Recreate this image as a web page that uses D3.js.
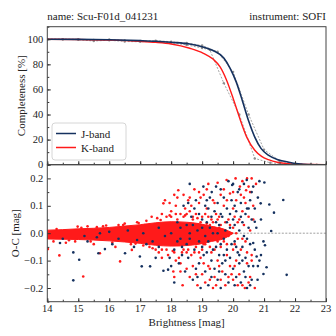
<!DOCTYPE html>
<html>
<head>
<meta charset="utf-8">
<script src="https://cdn.jsdelivr.net/npm/d3@7"></script>
<style>
  body { margin: 0; background: #fff; }
  svg text { font-family: "Liberation Serif", "DejaVu Serif", serif; fill: #222; }
</style>
</head>
<body>
<script>
// completeness fits
var jFitMag = [14, 15, 16, 17, 17.5, 18, 18.6, 19.0, 19.35, 19.7, 19.9, 20.1, 20.3, 20.5, 20.7, 20.9, 21.15, 21.45, 21.8, 22.1, 22.4, 23];
var jFitVal = [100, 99.9, 99.6, 98.9, 98.4, 97.6, 96.2, 94, 91, 85, 77, 66, 51, 35, 22, 13, 7.4, 4, 2, 0.8, 0.2, 0];
var kFitMag = [14, 15, 16, 17, 17.5, 18, 18.6, 19.04, 19.36, 19.58, 19.79, 20.0, 20.2, 20.44, 20.7, 20.92, 21.14, 21.46, 21.78, 22.1, 23];
var kFitVal = [100, 99.8, 99.3, 98.3, 97.5, 96.2, 92.8, 88.8, 84, 78, 67.4, 53, 38, 22, 11.5, 6.6, 4, 1.8, 0.8, 0.3, 0];

// measured completeness (grey dashed)
var jDataMag = [14, 14.5, 15, 15.5, 16, 16.5, 17, 17.5, 18, 18.5, 19, 19.5, 20, 20.5, 21, 21.5, 22, 22.5, 23];
var jDataVal = [100, 100, 100, 99.4, 99.8, 99, 98.6, 98.9, 98, 97, 95, 90, 74, 40, 12, 3, 0.5, 0, 0];
var kDataMag = [14, 14.5, 15, 15.5, 16, 16.5, 17, 17.5, 18, 18.5, 19, 19.25, 19.7, 20.2, 20.7, 21.2, 21.7, 22.2, 22.7, 23];
var kDataVal = [100, 100, 99.6, 98.6, 99.2, 98.2, 98, 98.3, 97.2, 95.5, 93, 91.5, 65, 40, 5, 1.5, 0.3, 0, 0, 0];

// dense red core of the residuals
var coreMag = [14, 14.5, 15, 15.5, 16, 16.5, 17, 17.5, 18, 18.5, 18.9, 19.3, 19.7, 20.0];
var coreHi = [0.011, 0.013, 0.016, 0.018, 0.021, 0.026, 0.031, 0.038, 0.042, 0.04, 0.035, 0.025, 0.015, 0.0];
var coreLo = [-0.021, -0.022, -0.023, -0.025, -0.028, -0.032, -0.037, -0.044, -0.047, -0.045, -0.04, -0.03, -0.02, 0.0];

// K-band residual points
var kPts = [[14.02,-0.058],[14.39,-0.081],[14.2,-0.03],[14.6,-0.035],[14.98,0.024],[15.16,-0.158],[15.3,0.025],[15.7,-0.073],[15.5,-0.04],[15.9,0.028],
  [16.35,-0.103],[16.2,-0.05],[16.73,-0.061],[16.5,0.035],[16.9,0.04],[17.15,0.03],[17.37,0.06],[17.66,0.048],[17.75,0.109],[17.8,0.12],
  [17.5,-0.06],[17.3,-0.05],[17.9,-0.08],[18.07,-0.14],[18.1,-0.16],[18.15,0.1],[18.0,0.08],[18.2,0.13],[18.23,0.157],[18.3,0.07],
  [18.37,-0.19],[18.3,-0.11],[18.45,0.09],[18.5,-0.07],[18.55,0.12],[18.6,-0.16],[18.7,0.05],[18.7,-0.12],[18.75,0.16],[18.8,-0.05],
  [18.85,-0.19],[18.9,0.11],[18.95,-0.09],[19.0,0.06],[19.0,-0.15],[19.05,0.14],[19.1,-0.04],[19.1,-0.18],[19.15,0.09],[19.2,-0.12],
  [19.2,0.18],[19.25,0.03],[19.3,-0.07],[19.35,0.12],[19.35,-0.2],[19.4,-0.16],[19.45,0.07],[19.5,0.184],[19.5,-0.1],[19.55,0.02],
  [19.6,-0.05],[19.6,0.14],[19.65,-0.14],[19.7,0.1],[19.75,-0.19],[19.79,0.194],[19.8,-0.08],[19.85,0.05],[19.9,0.145],[19.9,-0.12],
  [19.95,0.0],[20.0,-0.17],[20.0,0.09],[20.05,-0.04],[20.08,0.2],[20.1,0.12],[20.1,-0.1],[20.15,0.04],[20.2,-0.15],[20.22,0.17],
  [20.25,-0.06],[20.3,0.08],[20.3,-0.19],[20.35,0.13],[20.38,-0.2],[20.4,-0.03],[20.42,0.157],[20.45,-0.11],[20.5,0.06],[20.55,-0.16],
  [20.6,0.2],[20.65,0.1],[20.7,-0.2],[20.74,0.18],[20.5,0.17],[18.0,0.06],[18.1,-0.07],[18.2,0.05],[18.25,-0.09],[18.4,0.06],
  [18.4,-0.06],[18.5,0.07],[18.6,0.08],[18.65,-0.08],[18.8,0.07],[18.9,-0.07],[19.0,-0.06],[19.1,0.07],[19.2,0.06],[19.3,0.05],
  [19.4,-0.06],[19.5,0.05],[17.6,-0.07],[17.7,0.07],[17.85,-0.06],[17.95,0.065],[19.1,0.02],[19.3,-0.02],[19.45,0.01],[19.6,0.03],
  [19.7,-0.03],[19.85,-0.01],[20.0,0.02],[20.15,-0.02],[18.6,0.13],[18.9,0.15],[19.25,-0.17],[19.55,-0.12],[19.95,-0.15],[20.25,0.14],
  [17.2,0.045],[17.4,-0.055],[17.55,0.055],[17.7,-0.06],[17.85,0.06],[18.05,-0.065],[18.15,0.07],[18.35,-0.07],[18.45,0.065],[18.55,-0.06],
  [18.7,0.06],[18.75,-0.07],[18.85,0.055],[18.95,0.04],[19.05,-0.04],[19.15,0.035],[19.25,-0.05],[19.35,0.04],[19.4,0.02],[19.5,-0.03],
  [19.55,0.06],[19.65,0.0],[19.75,0.04],[19.8,-0.04],[19.9,0.03],[20.0,-0.06],[20.05,0.06],[20.1,0.0],[20.2,0.05],[20.3,-0.02],
  [20.35,0.03],[20.45,-0.07],[20.55,0.01],[20.6,-0.08],[20.65,0.05],[18.4,0.14],[18.5,-0.13],[18.65,0.1],[18.8,-0.15],[18.95,0.13],
  [19.05,-0.11],[19.15,0.16],[19.25,-0.13],[19.4,0.11],[19.45,-0.19],[19.6,-0.17],[19.7,0.16],[19.8,0.12],[19.85,-0.16],[20.0,0.15],
  [20.05,-0.12],[20.15,-0.19],[20.3,0.19],[20.4,0.11],[20.5,-0.18],[20.55,0.15],[20.6,-0.1],[20.45,0.2],[17.95,0.11],[18.1,0.14],
  [18.3,-0.14],[18.15,-0.1],[17.7,-0.09],[14.3,0.015],[14.7,-0.026],[15.1,0.02],[15.4,-0.03],[15.8,0.025],[16.1,-0.034],[16.45,0.03],
  [16.7,-0.04],[16.95,0.037],[17.1,-0.045],[14.9,-0.03],[15.6,0.022],[16.3,0.03],[16.85,-0.038]];

// J-band residual points
var jPts = [[14.41,-0.036],[14.5,-0.02],[14.84,-0.07],[15.03,-0.097],[14.84,-0.172],[15.3,-0.03],[15.65,-0.073],[15.86,-0.058],[15.7,0.0],[16.1,-0.04],
  [16.51,-0.073],[16.8,-0.05],[16.99,-0.085],[17.05,-0.121],[17.32,-0.121],[17.2,-0.04],[17.5,-0.09],[17.6,-0.05],[17.75,-0.137],[17.9,-0.133],
  [18.0,-0.12],[18.1,-0.18],[18.1,-0.06],[18.2,-0.03],[15.2,-0.01],[15.6,-0.015],[16.0,0.005],[16.3,-0.02],[16.6,0.01],[16.9,-0.025],
  [17.1,0.0],[17.4,-0.03],[17.6,0.02],[17.8,-0.01],[18.0,0.0],[18.3,-0.02],[18.6,0.0],
  [18.2,0.04],[18.25,-0.11],[18.3,0.02],[18.35,-0.05],[18.4,0.1],[18.45,-0.14],[18.5,0.03],[18.55,-0.09],[18.6,0.18],[18.6,-0.02],
  [18.65,0.06],[18.7,-0.17],[18.75,-0.06],[18.8,0.12],[18.85,0.01],[18.9,-0.11],[18.9,0.07],[18.95,-0.2],[19.0,0.02],[19.04,0.17],
  [19.05,-0.08],[19.1,0.1],[19.1,-0.14],[19.15,0.04],[19.2,-0.03],[19.2,-0.19],[19.25,0.13],[19.3,-0.1],[19.31,0.15],[19.35,0.0],
  [19.4,0.08],[19.4,-0.13],[19.45,-0.05],[19.5,0.11],[19.5,-0.17],[19.55,0.03],[19.55,-0.08],[19.6,0.16],[19.6,-0.2],[19.65,0.06],
  [19.65,-0.11],[19.7,-0.02],[19.7,0.13],[19.75,-0.15],[19.8,0.09],[19.8,-0.06],[19.85,0.19],[19.85,-0.18],[19.9,0.02],[19.9,-0.09],
  [19.95,0.12],[19.97,0.176],[20.0,-0.13],[20.0,0.05],[20.05,-0.19],[20.05,-0.03],[20.1,0.08],[20.1,-0.16],[20.15,0.15],[20.15,-0.07],
  [20.2,0.01],[20.2,-0.11],[20.25,0.11],[20.25,-0.18],[20.3,0.04],[20.3,-0.05],[20.35,0.18],[20.35,-0.14],[20.4,-0.09],[20.4,0.07],
  [20.44,0.194],[20.45,-0.2],[20.5,0.02],[20.5,-0.12],[20.55,0.12],[20.55,-0.04],[20.6,0.15],[20.6,-0.17],[20.65,-0.036],[20.7,0.042],
  [20.7,0.09],[20.76,-0.085],[20.79,-0.17],[20.8,0.13],[20.85,0.19],[20.89,0.109],[20.98,-0.03],[20.98,-0.149],[21.01,0.185],[21.03,-0.044],
  [21.08,-0.124],[21.17,0.105],[21.23,0.008],[21.32,0.075],[21.62,0.121],[21.73,-0.152],[19.0,-0.05],[19.3,0.06],[19.6,-0.04],[19.9,0.07],
  [20.2,-0.08],[19.15,-0.07],[19.45,0.04],[19.75,0.01],[20.05,0.1],[20.35,-0.01],[20.65,-0.12],[20.45,0.09],[19.2,0.09],[18.8,-0.13],
  [18.5,-0.04],[18.7,0.03],[18.9,-0.03],[19.0,0.05],[19.1,-0.01],[19.25,0.02],[19.35,-0.06],[19.5,0.0],[19.6,0.07],[19.7,-0.08],
  [19.8,0.04],[19.95,-0.04],[20.05,0.03],[20.1,-0.05],[20.25,0.06],[20.3,-0.1],[20.45,-0.02],[20.5,0.09],[20.6,0.05],[20.7,-0.06],
  [20.75,0.02],[20.85,-0.1],[20.9,0.05],[19.15,0.12],[19.45,0.17],[19.55,-0.14],[19.75,-0.1],[20.0,0.18],[20.2,0.16],[20.4,-0.16],
  [20.65,0.17],[20.8,-0.12],[18.75,0.09],[18.85,-0.16],[19.3,-0.16],[20.55,-0.19],[20.9,-0.08],[18.35,-0.08],[18.55,0.11],[17.95,-0.09]];

var xTicks = [14, 15, 16, 17, 18, 19, 20, 21, 22, 23];
var compTicks = [0, 20, 40, 60, 80, 100];
var ocTicks = [-0.2, -0.1, 0.0, 0.1, 0.2];

var width = 336, height = 336;
var left = 47.3, right = 326, top1 = 26.7, mid = 164.7, bot = 301.7;
var jColor = "#15315f", kColor = "#ff1a1a";

var svg = d3.select("body").append("svg").attr("width", width).attr("height", height);

var x = d3.scaleLinear().domain([14, 23]).range([left, right]);
var y1 = d3.scaleLinear().domain([0, 110]).range([mid, top1]);
var y2 = d3.scaleLinear().domain([-0.25, 0.25]).range([bot, mid]);

svg.append("defs").append("clipPath").attr("id", "c1")
  .append("rect").attr("x", left).attr("y", top1).attr("width", right - left).attr("height", mid - top1);
svg.select("defs").append("clipPath").attr("id", "c2")
  .append("rect").attr("x", left).attr("y", mid).attr("width", right - left).attr("height", bot - mid);

// titles
svg.append("text").attr("x", left).attr("y", 20).attr("font-size", 11).text("name: Scu-F01d_041231");
svg.append("text").attr("x", right).attr("y", 20).attr("font-size", 11).attr("text-anchor", "end").text("instrument: SOFI");

// ---- top panel
var g1 = svg.append("g").attr("clip-path", "url(#c1)");
var line = function (ys) {
  return d3.line().x(function (d) { return x(d[0]); }).y(function (d) { return ys(d[1]); });
};
function dataPairs(a, b) { return a.map(function (m, i) { return [m, b[i]]; }); }

[[jDataMag, jDataVal], [kDataMag, kDataVal]].forEach(function (s) {
  var pts = dataPairs(s[0], s[1]);
  g1.append("path").attr("d", line(y1)(pts)).attr("fill", "none")
    .attr("stroke", "#9a9a9a").attr("stroke-width", 0.9).attr("stroke-dasharray", "2,1.5");
  g1.selectAll(null).data(pts).enter().append("circle")
    .attr("cx", function (d) { return x(d[0]); }).attr("cy", function (d) { return y1(d[1]); })
    .attr("r", 1.2).attr("fill", "#8f8f8f");
});

var smooth = d3.line().curve(d3.curveMonotoneX)
  .x(function (d) { return x(d[0]); }).y(function (d) { return y1(d[1]); });
g1.append("path").attr("d", smooth(dataPairs(kFitMag, kFitVal))).attr("fill", "none")
  .attr("stroke", kColor).attr("stroke-width", 1.4);
g1.append("path").attr("d", smooth(dataPairs(jFitMag, jFitVal))).attr("fill", "none")
  .attr("stroke", jColor).attr("stroke-width", 1.6);

// ---- bottom panel
var g2 = svg.append("g").attr("clip-path", "url(#c2)");
g2.append("line").attr("x1", left).attr("x2", right).attr("y1", y2(0)).attr("y2", y2(0))
  .attr("stroke", "#777").attr("stroke-width", 0.7).attr("stroke-dasharray", "2,1.5");

var area = d3.area().curve(d3.curveMonotoneX)
  .x(function (d) { return x(d[0]); })
  .y0(function (d) { return y2(d[1]); })
  .y1(function (d) { return y2(d[2]); });
g2.append("path")
  .attr("d", area(coreMag.map(function (m, i) { return [m, coreLo[i], coreHi[i]]; })))
  .attr("fill", kColor).attr("stroke", kColor).attr("stroke-width", 1);

g2.selectAll(null).data(kPts).enter().append("circle")
  .attr("cx", function (d) { return x(d[0]); }).attr("cy", function (d) { return y2(d[1]); })
  .attr("r", 1.3).attr("fill", kColor);
g2.selectAll(null).data(jPts).enter().append("circle")
  .attr("cx", function (d) { return x(d[0]); }).attr("cy", function (d) { return y2(d[1]); })
  .attr("r", 1.3).attr("fill", jColor);

// ---- axes (inward ticks)
function inward(g, axis) { g.call(axis); g.select(".domain").remove(); g.selectAll("text").remove(); g.selectAll("line").attr("stroke", "#333"); }

var minorX = d3.range(14, 23.01, 0.5);
[mid, bot].forEach(function (yy) {
  svg.append("g").attr("transform", "translate(0," + yy + ")")
    .call(function (g) { inward(g, d3.axisTop(x).tickValues(minorX).tickSize(2)); });
  svg.append("g").attr("transform", "translate(0," + yy + ")")
    .call(function (g) { inward(g, d3.axisTop(x).tickValues(xTicks).tickSize(3.5)); });
});
svg.append("g").attr("transform", "translate(" + left + ",0)")
  .call(function (g) { inward(g, d3.axisRight(y1).tickValues(d3.range(0, 111, 10)).tickSize(2)); });
svg.append("g").attr("transform", "translate(" + left + ",0)")
  .call(function (g) { inward(g, d3.axisRight(y1).tickValues(compTicks).tickSize(3.5)); });
svg.append("g").attr("transform", "translate(" + left + ",0)")
  .call(function (g) { inward(g, d3.axisRight(y2).tickValues([-0.25, -0.15, -0.05, 0.05, 0.15, 0.25]).tickSize(2)); });
svg.append("g").attr("transform", "translate(" + left + ",0)")
  .call(function (g) { inward(g, d3.axisRight(y2).tickValues(ocTicks).tickSize(3.5)); });

// tick labels
svg.selectAll(null).data(compTicks).enter().append("text")
  .attr("x", left - 4).attr("y", function (d) { return y1(d) + 3.5; })
  .attr("text-anchor", "end").attr("font-size", 10.5).text(function (d) { return d; });
svg.selectAll(null).data(ocTicks).enter().append("text")
  .attr("x", left - 4).attr("y", function (d) { return y2(d) + 3.5; })
  .attr("text-anchor", "end").attr("font-size", 10.5)
  .text(function (d) { return d3.format(".1f")(d).replace("-", "\u2212"); });
svg.selectAll(null).data(xTicks).enter().append("text")
  .attr("x", function (d) { return x(d); }).attr("y", bot + 10.5)
  .attr("text-anchor", "middle").attr("font-size", 10.5).text(function (d) { return d; });

// frames
[[top1, mid], [mid, bot]].forEach(function (p) {
  svg.append("rect").attr("x", left).attr("y", p[0]).attr("width", right - left).attr("height", p[1] - p[0])
    .attr("fill", "none").attr("stroke", "#444").attr("stroke-width", 1);
});

// axis labels
svg.append("text").attr("transform", "translate(25," + (top1 + mid) / 2 + ") rotate(-90)")
  .attr("text-anchor", "middle").attr("font-size", 11).text("Completeness [%]");
svg.append("text").attr("transform", "translate(19," + (mid + bot) / 2 + ") rotate(-90)")
  .attr("text-anchor", "middle").attr("font-size", 11).text("O-C [mag]");
svg.append("text").attr("x", (left + right) / 2).attr("y", 326)
  .attr("text-anchor", "middle").attr("font-size", 11).text("Brightness [mag]");

// legend
var lg = svg.append("g").attr("transform", "translate(52,123)");
lg.append("rect").attr("width", 74).attr("height", 37).attr("rx", 3)
  .attr("fill", "#fff").attr("fill-opacity", 0.85).attr("stroke", "#ccc").attr("stroke-width", 0.8);
[["J-band", jColor], ["K-band", kColor]].forEach(function (d, i) {
  lg.append("line").attr("x1", 4).attr("x2", 24).attr("y1", 10.5 + i * 14).attr("y2", 10.5 + i * 14)
    .attr("stroke", d[1]).attr("stroke-width", 1.5);
  lg.append("text").attr("x", 29).attr("y", 14.5 + i * 14).attr("font-size", 11).text(d[0]);
});
</script>
</body>
</html>
